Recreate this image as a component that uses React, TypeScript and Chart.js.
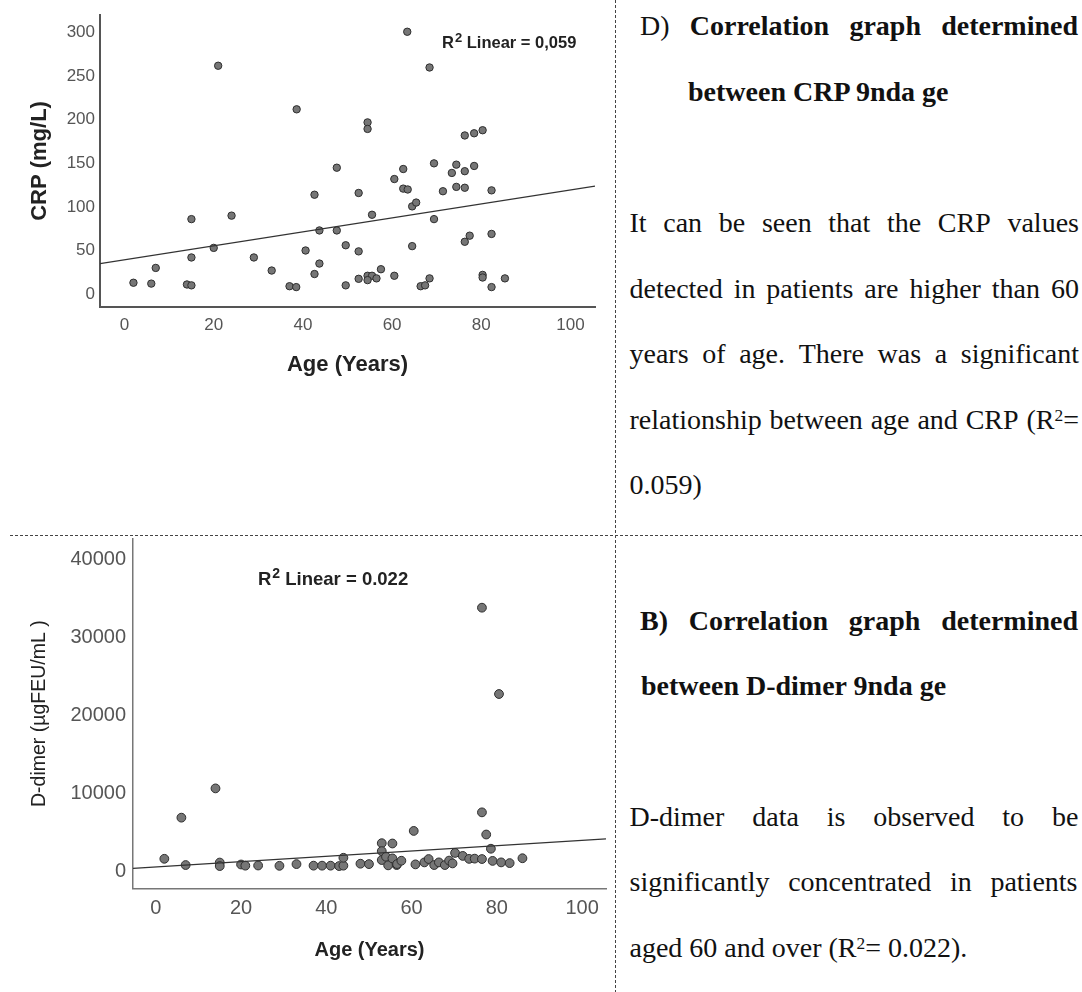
import React, { useEffect, useRef } from "react";
import { Chart, registerables } from "chart.js";

Chart.register(...registerables);

// ---------- DATA ----------
const ageTicks = [0, 20, 40, 60, 80, 100];

const crpTicks = [0, 50, 100, 150, 200, 250, 300];
const crpAges = [
  2, 6, 7, 14, 15, 15, 15, 21, 20, 24, 29, 33, 37, 38.5, 38.6, 40.6, 42.6, 42.6, 43.7, 43.7,
  47.6, 47.6, 49.6, 49.6, 52.5, 52.5, 52.5, 54.5, 54.5, 55.5, 54.5, 55.5, 54.5, 56.5, 57.5,
  60.5, 60.5, 62.5, 62.5, 63.5, 63.4, 64.5, 65.4, 64.5, 66.4, 67.4, 68.4, 68.4, 69.4, 69.4,
  71.4, 73.4, 74.4, 74.4, 76.3, 76.3, 76.3, 78.4, 80.3, 78.4, 77.4, 76.3, 82.3, 82.3, 80.3,
  80.3, 82.3, 85.3,
];
const crpValues = [
  13, 12, 30, 11, 10, 86, 42, 262, 53, 90, 42, 27, 9, 8, 212, 50, 114, 23, 35, 73,
  145, 73, 56, 10, 116, 49, 17.5, 197, 189.5, 91, 21, 21, 16, 18, 28.5,
  132, 21, 143.5, 121, 120, 301, 100.6, 105, 55, 9, 10, 260, 18, 150, 86,
  118, 139, 148.5, 123, 141, 122, 182, 184.5, 188, 147, 67, 60, 119, 69, 22,
  19, 8, 18,
];
const crpFit = { intercept: 39.4, slope: 0.8 };
const crpR2 = "0,059";

const ddTicks = [0, 10000, 20000, 30000, 40000];
const ddAges = [
  2, 6, 7, 14, 15, 15, 20, 21, 24, 29, 33, 37, 39, 41, 43, 44, 44, 48, 50, 53, 53, 53, 54,
  54.5, 55.5, 55.5, 56.5, 56.6, 57.6, 60.5, 60.9, 63, 64, 65.3, 66.4, 67.8, 68.8, 69.6,
  70.2, 72, 73.5, 74.8, 76.5, 76.5, 76.5, 77.5, 78.6, 79, 80.5, 81, 83, 86,
];
const ddValues = [
  1630, 6900, 830, 10650, 1150, 700, 900, 750, 770, 730, 950, 750, 750, 750, 700, 750, 1760,
  1000, 950, 3630, 2610, 1470, 1890, 790, 1680, 3590, 830, 955, 1380, 5200, 915, 1170, 1600,
  830, 1170, 830, 1400, 1040, 2380, 2000, 1620, 1650, 1600, 33800, 7580, 4740, 2920, 1360,
  22740, 1170, 1080, 1700,
];
const ddFit = { intercept: 580, slope: 34 };
const ddR2 = "0.022";

// ---------- HELPERS ----------
const SANS = "'Liberation Sans', Arial, sans-serif";
const SERIF = "'Liberation Serif', 'Times New Roman', serif";

function r2Plugin(id: string, x: number, baseline: number, size: number, value: string) {
  return {
    id,
    afterDraw(chart: any) {
      const ctx = chart.ctx;
      ctx.save();
      ctx.fillStyle = "#222";
      ctx.textAlign = "left";
      ctx.textBaseline = "alphabetic";
      ctx.font = `bold ${size}px ${SANS}`;
      ctx.fillText("R", x, baseline);
      let cx = x + ctx.measureText("R").width + 1;
      ctx.font = `bold ${Math.round(size * 0.78)}px ${SANS}`;
      ctx.fillText("2", cx, baseline - size * 0.4);
      cx += ctx.measureText("2").width;
      ctx.font = `bold ${size}px ${SANS}`;
      ctx.fillText(" Linear = " + value, cx, baseline);
      ctx.restore();
    },
  };
}

type ChartSpec = {
  ages: number[];
  values: number[];
  fit: { intercept: number; slope: number };
  xMin: number;
  xMax: number;
  yMin: number;
  yMax: number;
  yTicks: number[];
  padTop: number;
  padRight: number;
  yWidth: number;
  xHeight: number;
  tickSize: number;
  yTickPad: number;
  xTickPad: number;
  yTitle: string;
  yTitleSize: number;
  yTitleBold: boolean;
  yTitlePad: number;
  xTitleSize: number;
  xTitlePad: number;
  pointRadius: number;
  axisColor: string;
  axisWidth: number;
  r2: any;
};

function ScatterChart({ spec, width, height, style }: { spec: ChartSpec; width: number; height: number; style: any }) {
  const ref = useRef<HTMLCanvasElement | null>(null);
  useEffect(() => {
    if (!ref.current) return;
    const s = spec;
    const pts = s.ages.map((a, i) => ({ x: a, y: s.values[i] }));
    const line = [s.xMin, s.xMax].map((x) => ({ x, y: s.fit.intercept + s.fit.slope * x }));
    const chart = new Chart(ref.current, {
      type: "scatter",
      data: {
        datasets: [
          {
            data: line,
            showLine: true,
            pointRadius: 0,
            borderColor: "#333",
            borderWidth: 1.2,
            fill: false,
          } as any,
          {
            data: pts,
            pointRadius: s.pointRadius,
            pointHoverRadius: s.pointRadius,
            backgroundColor: "#767676",
            borderColor: "#2e2e2e",
            borderWidth: 1,
          },
        ],
      },
      options: {
        responsive: false,
        animation: false,
        events: [],
        layout: { padding: { top: s.padTop, right: s.padRight, left: 0, bottom: 0 } },
        plugins: { legend: { display: false }, tooltip: { enabled: false } },
        scales: {
          x: {
            type: "linear",
            min: s.xMin,
            max: s.xMax,
            grid: { display: false, drawTicks: false },
            border: { display: true, color: s.axisColor, width: s.axisWidth },
            ticks: {
              color: "#555",
              font: { size: s.tickSize, family: SANS },
              padding: s.xTickPad,
              maxRotation: 0,
              autoSkip: false,
              callback: (v: any) => String(v),
            },
            afterBuildTicks: (sc: any) => {
              sc.ticks = ageTicks.map((v) => ({ value: v }));
            },
            afterFit: (sc: any) => {
              sc.height = s.xHeight;
            },
            title: {
              display: true,
              text: "Age (Years)",
              color: "#222",
              font: { size: s.xTitleSize, weight: "bold", family: SANS },
              padding: { top: 0, bottom: s.xTitlePad },
            },
          },
          y: {
            type: "linear",
            min: s.yMin,
            max: s.yMax,
            grid: { display: false, drawTicks: false },
            border: { display: true, color: s.axisColor, width: s.axisWidth },
            ticks: {
              color: "#555",
              font: { size: s.tickSize, family: SANS },
              padding: s.yTickPad,
              autoSkip: false,
              callback: (v: any) => String(v),
            },
            afterBuildTicks: (sc: any) => {
              sc.ticks = s.yTicks.map((v) => ({ value: v }));
            },
            afterFit: (sc: any) => {
              sc.width = s.yWidth;
            },
            title: {
              display: true,
              text: s.yTitle,
              color: "#222",
              font: { size: s.yTitleSize, weight: s.yTitleBold ? "bold" : "normal", family: SANS },
              padding: { top: s.yTitlePad, bottom: 0 },
            },
          },
        },
      },
      plugins: [s.r2],
    } as any);
    return () => chart.destroy();
  }, [spec]);
  return <canvas ref={ref} width={width} height={height} style={{ position: "absolute", width, height, ...style }} />;
}

const crpSpec: ChartSpec = {
  ages: crpAges,
  values: crpValues,
  fit: crpFit,
  xMin: -5.5,
  xMax: 105.5,
  yMin: -14.5,
  yMax: 320,
  yTicks: crpTicks,
  padTop: 13,
  padRight: 15,
  yWidth: 100,
  xHeight: 93.3,
  tickSize: 17,
  yTickPad: 5,
  xTickPad: 8,
  yTitle: "CRP (mg/L)",
  yTitleSize: 22,
  yTitleBold: true,
  yTitlePad: 26.3,
  xTitleSize: 22,
  xTitlePad: 21.8,
  pointRadius: 3.7,
  axisColor: "#555",
  axisWidth: 2,
  r2: r2Plugin("r2crp", 442, 48.3, 16.5, crpR2),
};

const ddSpec: ChartSpec = {
  ages: ddAges,
  values: ddValues,
  fit: ddFit,
  xMin: -5.35,
  xMax: 105.6,
  yMin: -2150,
  yMax: 42600,
  yTicks: ddTicks,
  padTop: 17,
  padRight: 8,
  yWidth: 133,
  xHeight: 103.7,
  tickSize: 20,
  yTickPad: 7,
  xTickPad: 8,
  yTitle: "D-dimer (µgFEU/mL )",
  yTitleSize: 19.5,
  yTitleBold: false,
  yTitlePad: 28.3,
  xTitleSize: 20,
  xTitlePad: 30,
  pointRadius: 4.4,
  axisColor: "#777",
  axisWidth: 1.5,
  r2: r2Plugin("r2dd", 258, 65, 18.5, ddR2),
};

// ---------- TEXT ----------
const FS = 28;
const BASE_OFF = 23.5; // baseline offset inside a 28px line box

function Sup2() {
  return <span style={{ fontSize: "0.62em", position: "relative", top: "-0.45em" }}>2</span>;
}

function JLine({ words, left, width, baseline, bold }: { words: React.ReactNode[]; left: number; width: number; baseline: number; bold?: boolean }) {
  return (
    <div
      style={{
        position: "absolute",
        left,
        width,
        top: baseline - BASE_OFF,
        height: FS,
        lineHeight: FS + "px",
        display: "flex",
        justifyContent: "space-between",
        whiteSpace: "nowrap",
        fontWeight: bold ? "bold" : "normal",
      }}
    >
      {words.map((w, i) => (
        <span key={i}>{w}</span>
      ))}
    </div>
  );
}

function PLine({ children, left, baseline, bold }: { children: React.ReactNode; left: number; baseline: number; bold?: boolean }) {
  return (
    <div
      style={{
        position: "absolute",
        left,
        top: baseline - BASE_OFF,
        height: FS,
        lineHeight: FS + "px",
        whiteSpace: "nowrap",
        fontWeight: bold ? "bold" : "normal",
      }}
    >
      {children}
    </div>
  );
}

export default function App() {
  return (
    <div
      style={{
        position: "absolute",
        left: 0,
        top: 0,
        width: 1082,
        height: 992,
        overflow: "hidden",
        background: "#fff",
        fontFamily: SERIF,
        fontSize: FS,
        color: "#111",
      }}
    >
      <svg width={1082} height={992} style={{ position: "absolute", left: 0, top: 0 }}>
        <line x1={10} y1={535.5} x2={1082} y2={535.5} stroke="#444" strokeWidth={1} strokeDasharray="3 2" />
        <line x1={615.5} y1={0} x2={615.5} y2={992} stroke="#444" strokeWidth={1} strokeDasharray="3 2" />
      </svg>

      <ScatterChart spec={crpSpec} width={610} height={400} style={{ left: 0, top: 0 }} />
      <ScatterChart spec={ddSpec} width={614} height={472} style={{ left: 0, top: 520 }} />

      {/* Top-right text */}
      <JLine
        left={640}
        width={438}
        baseline={35}
        words={[
          <span style={{ fontWeight: "normal" }}>D)</span>,
          <b>Correlation</b>,
          <b>graph</b>,
          <b>determined</b>,
        ]}
      />
      <PLine left={688} baseline={101.5} bold>
        between CRP 9nda ge
      </PLine>
      <JLine left={629.5} width={449.5} baseline={232.5} words={["It", "can", "be", "seen", "that", "the", "CRP", "values"]} />
      <JLine left={629.5} width={449.5} baseline={298} words={["detected", "in", "patients", "are", "higher", "than", "60"]} />
      <JLine left={629.5} width={449.5} baseline={363.5} words={["years", "of", "age.", "There", "was", "a", "significant"]} />
      <JLine
        left={629.5}
        width={449.5}
        baseline={429}
        words={["relationship", "between", "age", "and", "CRP", <>(R<Sup2 />=</>]}
      />
      <PLine left={629.5} baseline={494.5}>0.059)</PLine>

      {/* Bottom-right text */}
      <JLine left={640} width={438} baseline={630} bold words={["B)", "Correlation", "graph", "determined"]} />
      <PLine left={641} baseline={695} bold>
        between D-dimer 9nda ge
      </PLine>
      <JLine left={629.5} width={449} baseline={826.5} words={["D-dimer", "data", "is", "observed", "to", "be"]} />
      <JLine left={629.5} width={448} baseline={891.5} words={["significantly", "concentrated", "in", "patients"]} />
      <PLine left={629.5} baseline={957}>
        aged 60 and over (R<Sup2 />= 0.022).
      </PLine>
    </div>
  );
}
